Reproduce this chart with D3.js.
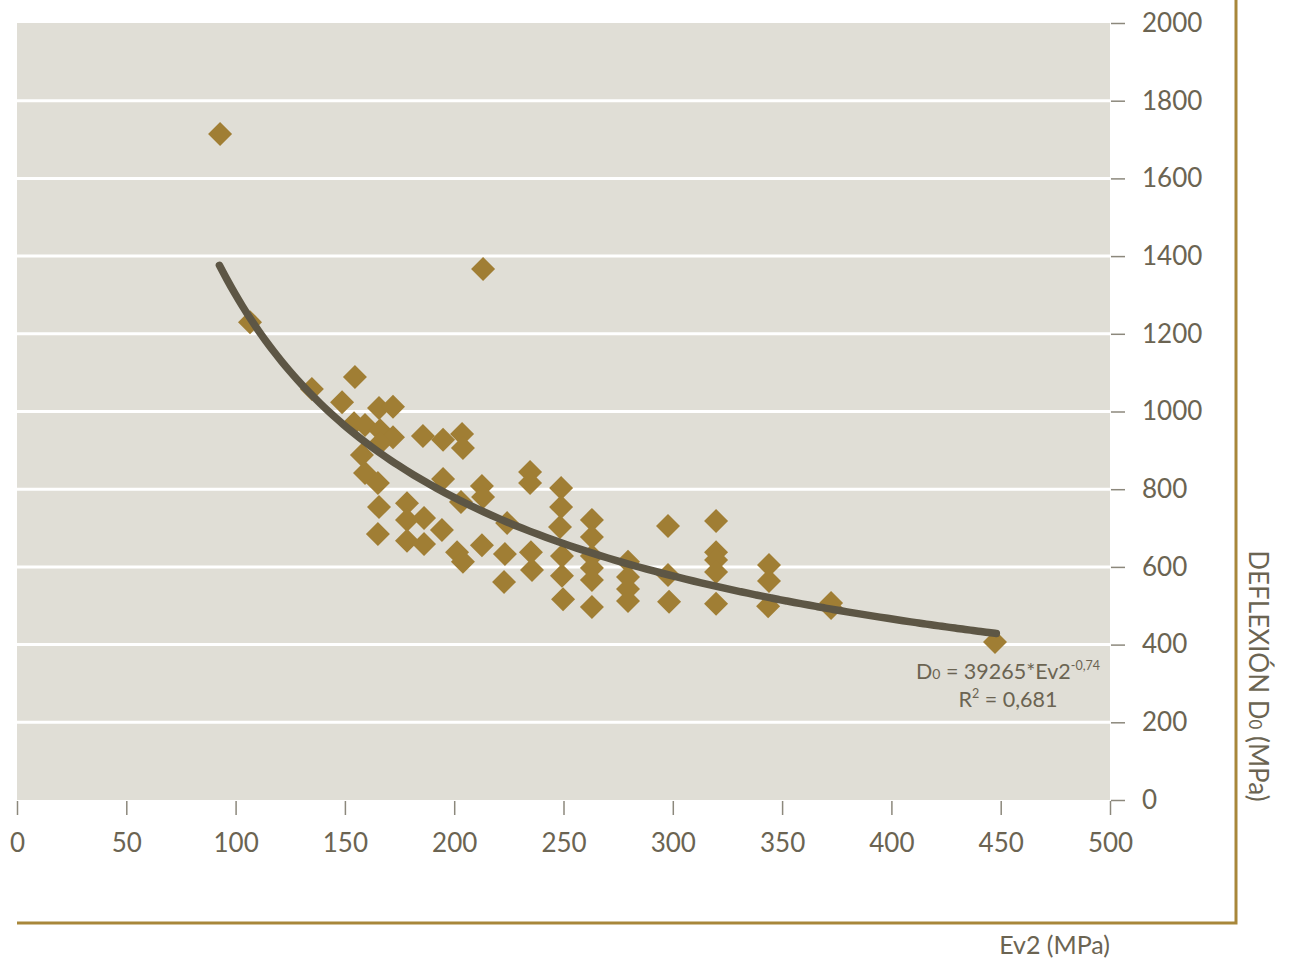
<!DOCTYPE html>
<html>
<head>
<meta charset="utf-8">
<script src="https://cdn.jsdelivr.net/npm/d3@7"></script>
<style>
  body { margin: 0; background: #fff; }
  svg text { font-family: Lato, "Open Sans", sans-serif; fill: #6b6452; }
</style>
</head>
<body>
<div id="vis"></div>
<script>
// measured points: Ev2 (MPa) and deflection D0
var ev2 = [92.9, 106.6, 213.2, 134.9, 154.6, 148.7, 165.6, 172.0, 154.2, 159.2,
  166.1, 172.0, 166.1, 157.8, 159.2, 165.1, 165.6, 165.1, 185.7, 194.9,
  203.6, 204.0, 194.9, 212.7, 213.2, 178.4, 178.4, 186.2, 194.4, 178.4,
  186.2, 201.3, 204.0, 212.7, 203.1, 224.2, 223.2, 222.8, 234.7, 234.7,
  235.1, 235.6, 248.9, 248.9, 248.4, 249.3, 249.3, 249.8, 263.0, 263.0,
  263.0, 263.0, 263.0, 263.0, 279.5, 279.5, 279.5, 279.5, 297.8, 297.8,
  298.3, 319.8, 319.8, 319.8, 319.8, 319.8, 344.0, 344.0, 343.6, 372.4,
  372.4, 447.4];
var d0 = [1714, 1230, 1367, 1058, 1089, 1024, 1009, 1012, 970, 965,
  952, 934, 919, 888, 842, 816, 754, 685, 937, 927,
  942, 906, 826, 808, 780, 764, 721, 726, 695, 667,
  659, 638, 613, 656, 767, 713, 633, 561, 844, 816,
  638, 592, 803, 754, 703, 628, 577, 517, 721, 677,
  628, 597, 566, 497, 613, 574, 543, 512, 705, 579,
  510, 718, 638, 618, 587, 505, 605, 564, 499, 507,
  494, 407];

// power trend line  D0 = a * Ev2^b
var fitA = 39265;
var fitB = -0.74;
var fitRange = [92.6, 448];

var xTicks = [0, 50, 100, 150, 200, 250, 300, 350, 400, 450, 500];
var yTicks = [0, 200, 400, 600, 800, 1000, 1200, 1400, 1600, 1800, 2000];

var width = 1294, height = 962;
var plot = { left: 17, right: 1110, top: 23, bottom: 800 };
var gold = "#a8873a";

var svg = d3.select("#vis").append("svg")
  .attr("width", width)
  .attr("height", height);

var x = d3.scaleLinear().domain([0, 500]).range([plot.left, plot.right]);
var y = d3.scaleLinear().domain([0, 2000]).range([plot.bottom, plot.top]);

svg.append("rect")
  .attr("x", plot.left)
  .attr("y", plot.top)
  .attr("width", plot.right - plot.left)
  .attr("height", plot.bottom - plot.top)
  .attr("fill", "#e0ded6");

svg.selectAll(".grid")
  .data(yTicks.filter(function(d) { return d > 0 && d < 2000; }))
  .enter().append("line")
  .attr("class", "grid")
  .attr("x1", plot.left)
  .attr("x2", plot.right)
  .attr("y1", function(d) { return y(d); })
  .attr("y2", function(d) { return y(d); })
  .attr("stroke", "#fff")
  .attr("stroke-width", 3);

// axes
var xAxis = svg.append("g")
  .attr("transform", "translate(0," + (plot.bottom + 1) + ")")
  .call(d3.axisBottom(x).tickValues(xTicks).tickFormat(d3.format("d"))
    .tickSize(14).tickPadding(19));
var yAxis = svg.append("g")
  .attr("transform", "translate(" + (plot.right + 1) + ",0)")
  .call(d3.axisRight(y).tickValues(yTicks).tickFormat(d3.format("d"))
    .tickSize(14).tickPadding(17));

[xAxis, yAxis].forEach(function(g) {
  g.select(".domain").remove();
  g.selectAll(".tick line").attr("stroke", "#8c887c").attr("stroke-width", 1.5);
  g.selectAll(".tick text")
    .attr("fill", "#6b6452")
    .style("font-size", "26px")
    .style("font-family", "Lato, sans-serif");
});

// points
var pts = ev2.map(function(v, i) { return { x: v, y: d0[i] }; });
svg.selectAll(".pt")
  .data(pts).enter()
  .append("path")
  .attr("class", "pt")
  .attr("d", d3.symbol().type(d3.symbolSquare).size(288))
  .attr("transform", function(d) {
    return "translate(" + x(d.x) + "," + y(d.y) + ") rotate(45)";
  })
  .attr("fill", "#a07e34");

// trend line
var fitPts = d3.range(0, 101).map(function(i) {
  var e = fitRange[0] + (fitRange[1] - fitRange[0]) * i / 100;
  return [e, fitA * Math.pow(e, fitB)];
});
svg.append("path")
  .datum(fitPts)
  .attr("d", d3.line()
    .x(function(d) { return x(d[0]); })
    .y(function(d) { return y(d[1]); })
    .curve(d3.curveBasis))
  .attr("fill", "none")
  .attr("stroke", "#5d5645")
  .attr("stroke-width", 7.5)
  .attr("stroke-linecap", "round");

// equation
var eq = svg.append("text")
  .attr("x", 1008).attr("y", 679)
  .attr("text-anchor", "middle")
  .style("font-size", "21.5px");
eq.append("tspan").text("D");
eq.append("tspan").style("font-size", "14px").text("0");
eq.append("tspan").text(" = " + fitA + "*Ev2");
eq.append("tspan").attr("dy", -9).style("font-size", "12.5px").text("-0,74");

var r2 = svg.append("text")
  .attr("x", 1008).attr("y", 707)
  .attr("text-anchor", "middle")
  .style("font-size", "21.5px");
r2.append("tspan").text("R");
r2.append("tspan").attr("dy", -9).style("font-size", "12.5px").text("2");
r2.append("tspan").attr("dy", 9).text(" = 0,681");

// frame
svg.append("path")
  .attr("d", "M" + plot.left + ",923 H1236 V0")
  .attr("fill", "none")
  .attr("stroke", gold)
  .attr("stroke-width", 3);

// axis titles
svg.append("text")
  .attr("x", 1110).attr("y", 954)
  .attr("text-anchor", "end")
  .style("font-size", "25px")
  .text("Ev2 (MPa)");

var yt = svg.append("text")
  .attr("transform", "translate(1249,676) rotate(90)")
  .attr("text-anchor", "middle")
  .style("font-size", "26px");
yt.append("tspan").text("DEFLEXIÓN D");
yt.append("tspan").style("font-size", "17px").text("0");
yt.append("tspan").text(" (MPa)");
</script>
</body>
</html>
